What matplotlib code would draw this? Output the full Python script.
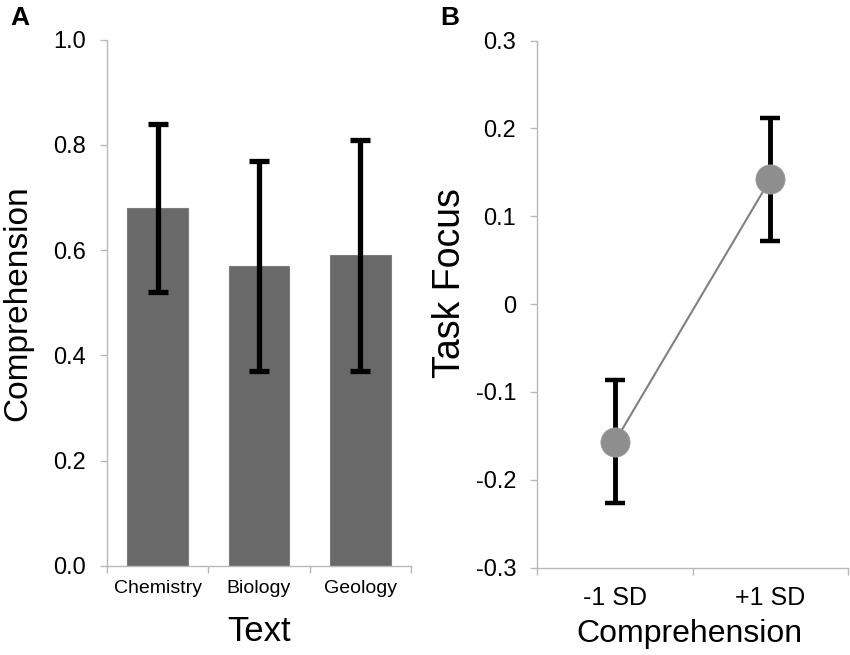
import matplotlib
matplotlib.use("Agg")
import matplotlib.pyplot as plt
import numpy as np
from matplotlib.ticker import FixedLocator, FuncFormatter

plt.rcParams['font.family'] = ['Liberation Sans', 'DejaVu Sans']

# ---- data ----
texts = ["Chemistry", "Biology", "Geology"]
comprehension = [0.68, 0.57, 0.59]
comprehension_err = [0.16, 0.20, 0.22]
a_yticks = [0.0, 0.2, 0.4, 0.6, 0.8, 1.0]

levels = ["-1 SD", "+1 SD"]
task_focus = [-0.157, 0.142]
task_focus_err = [0.070, 0.070]
b_yticks = [-0.3, -0.2, -0.1, 0.0, 0.1, 0.2, 0.3]

spine_c = '#b8b8b8'

fig = plt.figure(figsize=(8.5, 6.55), dpi=100)

# ---- Panel A ----
axA = fig.add_axes([107/850, 1-566/655, 304/850, 526.5/655])
x = np.arange(len(texts))
axA.bar(x, comprehension, width=0.6, color='#696969', edgecolor='#7d7d7d', linewidth=0.8, zorder=2)
axA.errorbar(x, comprehension, yerr=comprehension_err, fmt='none', ecolor='black',
             elinewidth=3.8, capsize=7.5, capthick=3.8, zorder=3)
axA.set_xlim(-0.5, len(texts)-0.5)
axA.set_ylim(0, 1.0)
axA.set_yticks(a_yticks)
axA.yaxis.set_major_formatter(FuncFormatter(lambda v, p: f"{v:.1f}"))
axA.set_xticks(x)
axA.set_xticklabels(texts, fontsize=14)
axA.xaxis.set_minor_locator(FixedLocator(np.arange(-0.5, len(texts), 1.0)))
axA.tick_params(axis='x', which='major', length=0, pad=10)
axA.tick_params(axis='x', which='minor', length=5, width=1, color=spine_c, direction='out')
axA.tick_params(axis='y', length=5, width=1, color=spine_c, labelsize=17, pad=10)
for s in ['top', 'right']:
    axA.spines[s].set_visible(False)
for s in ['left', 'bottom']:
    axA.spines[s].set_color(spine_c)
    axA.spines[s].set_linewidth(1)
axA.set_xlabel("Text", fontsize=25)
axA.xaxis.set_label_coords(0.5, -0.093)
axA.xaxis.label.set_va('top')
axA.set_ylabel("Comprehension", fontsize=24)
axA.yaxis.set_label_coords(-0.243, 0.5)

# ---- Panel B ----
axB = fig.add_axes([537/850, 1-567.5/655, 311/850, 527/655])
xb = np.arange(len(levels))
axB.plot(xb, task_focus, color='#808080', lw=1.5, zorder=2)
axB.errorbar(xb, task_focus, yerr=task_focus_err, fmt='none', ecolor='black',
             elinewidth=3.5, capsize=7.5, capthick=3.2, zorder=3)
axB.plot(xb, task_focus, linestyle='none', marker='o', markersize=21,
         markerfacecolor='#8e8e8e', markeredgecolor='#9c9c9c', markeredgewidth=0.6, zorder=4)
axB.set_xlim(-0.5, len(levels)-0.5)
axB.set_ylim(-0.3, 0.3)
axB.set_yticks(b_yticks)
axB.yaxis.set_major_formatter(FuncFormatter(lambda v, p: "0" if abs(v) < 1e-9 else f"{v:.1f}"))
axB.set_xticks(xb)
axB.set_xticklabels(levels, fontsize=18)
axB.xaxis.set_minor_locator(FixedLocator(np.arange(-0.5, len(levels), 1.0)))
axB.tick_params(axis='x', which='major', length=0, pad=13)
axB.tick_params(axis='x', which='minor', length=5, width=1, color=spine_c, direction='out')
axB.tick_params(axis='y', length=5, width=1, color=spine_c, labelsize=17, pad=10)
for s in ['top', 'right']:
    axB.spines[s].set_visible(False)
for s in ['left', 'bottom']:
    axB.spines[s].set_color(spine_c)
    axB.spines[s].set_linewidth(1)
axB.set_xlabel("Comprehension", fontsize=23)
axB.xaxis.set_label_coords(0.49, -0.098)
axB.xaxis.label.set_va('top')
axB.set_ylabel("Task Focus", fontsize=27)
axB.yaxis.set_label_coords(-0.222, 0.54)

fig.text(10/850, 1-25/655, "A", fontsize=19, fontweight='bold', va='baseline', ha='left')
fig.text(440/850, 1-25/655, "B", fontsize=19, fontweight='bold', va='baseline', ha='left')

fig.savefig("out.png", dpi=100)
